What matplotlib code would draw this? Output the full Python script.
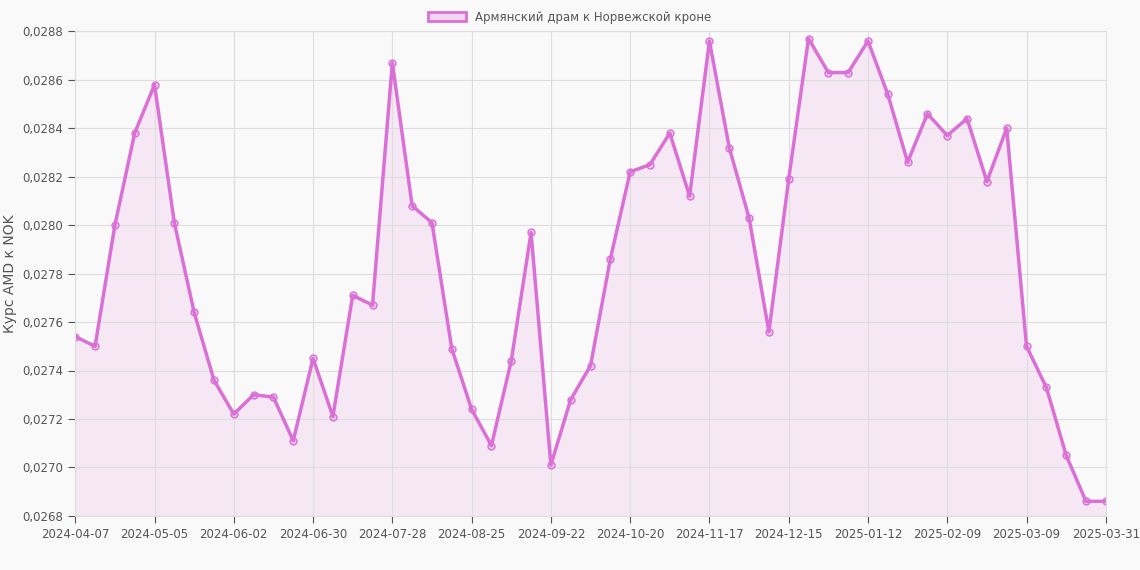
import matplotlib.pyplot as plt
from matplotlib.patches import Patch

values = [0.02754, 0.02750, 0.02800, 0.02838, 0.02858, 0.02801, 0.02764, 0.02736, 0.02722, 0.02730,
          0.02729, 0.02711, 0.02745, 0.02721, 0.02771, 0.02767, 0.02867, 0.02808, 0.02801, 0.02749,
          0.02724, 0.02709, 0.02744, 0.02797, 0.02701, 0.02728, 0.02742, 0.02786, 0.02822, 0.02825,
          0.02838, 0.02812, 0.02876, 0.02832, 0.02803, 0.02756, 0.02819, 0.02877, 0.02863, 0.02863,
          0.02876, 0.02854, 0.02826, 0.02846, 0.02837, 0.02844, 0.02818, 0.02840, 0.02750, 0.02733,
          0.02705, 0.02686, 0.02686]
tick_pos = [0, 4, 8, 12, 16, 20, 24, 28, 32, 36, 40, 44, 48, 52]
tick_labels = ['2024-04-07', '2024-05-05', '2024-06-02', '2024-06-30', '2024-07-28', '2024-08-25',
               '2024-09-22', '2024-10-20', '2024-11-17', '2024-12-15', '2025-01-12', '2025-02-09',
               '2025-03-09', '2025-03-31']
yticks = [0.0268 + 0.0002 * i for i in range(11)]

line_c = '#da70d6'
bg = '#f9f9f9'
fig = plt.figure(figsize=(11.4, 5.7), dpi=100, facecolor=bg)
ax = fig.add_axes([0.066, 0.095, 0.904, 0.85], facecolor=bg)
x = list(range(len(values)))
ax.fill_between(x, values, 0.0268, color=line_c, alpha=0.12, lw=0)
ax.plot(x, values, color=line_c, lw=2.5, marker='o', ms=5, mfc=(0.85, 0.44, 0.84, 0.3), mec=line_c, mew=1)
ax.set_xlim(0, len(values) - 1)
ax.set_ylim(0.0268, 0.0288)
ax.set_xticks(tick_pos)
ax.set_xticklabels(tick_labels)
ax.set_yticks(yticks)
ax.set_yticklabels([f'{v:.4f}'.replace('.', ',') for v in yticks])
ax.tick_params(labelsize=8.5, colors='#555555', length=5)
ax.grid(color='#dddddd', lw=0.8)
for s in ax.spines.values():
    s.set_color('#dddddd')
ax.set_ylabel('Курс AMD к NOK', fontsize=10, color='#555555')
fig.legend(handles=[Patch(facecolor=(0.85, 0.44, 0.84, 0.25), edgecolor=line_c, lw=2)],
           labels=['Армянский драм к Норвежской кроне'], loc='upper center', bbox_to_anchor=(0.5, 1.0),
           frameon=False, fontsize=8.5, labelcolor='#555555', handlelength=3.2)
fig.savefig('out.png', facecolor=bg)
